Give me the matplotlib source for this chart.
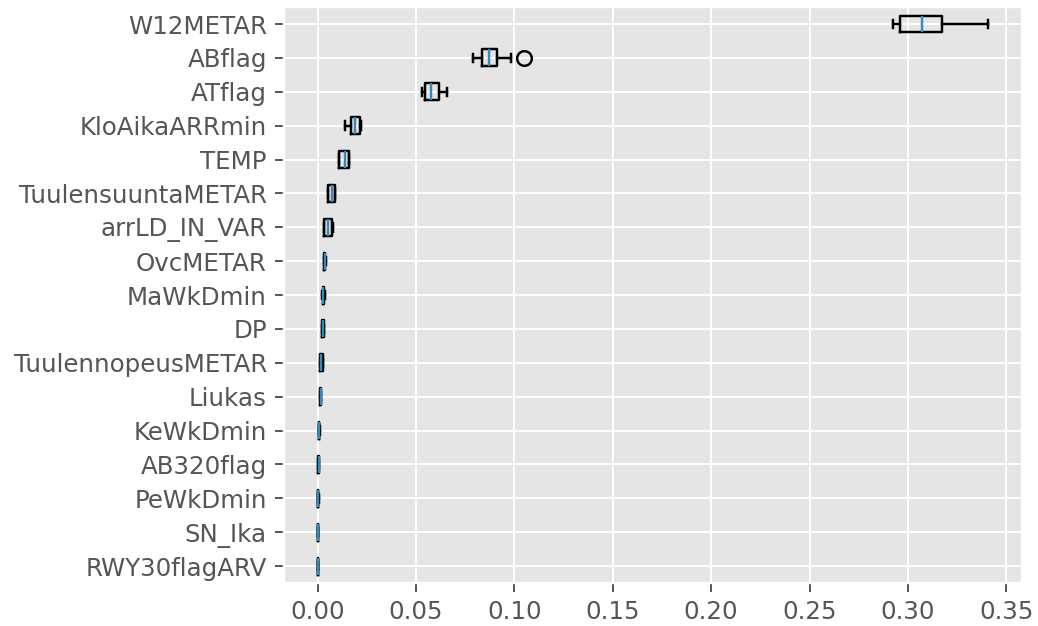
import numpy as np
import matplotlib
matplotlib.use("Agg")
import matplotlib.pyplot as plt

plt.style.use("ggplot")

# permutation importance summary per feature (bottom to top)
features = [
    "RWY30flagARV", "SN_Ika", "PeWkDmin", "AB320flag", "KeWkDmin", "Liukas",
    "TuulennopeusMETAR", "DP", "MaWkDmin", "OvcMETAR", "arrLD_IN_VAR",
    "TuulensuuntaMETAR", "TEMP", "KloAikaARRmin", "ATflag", "ABflag", "W12METAR",
]
whislo = [0.0000, 0.0001, 0.0002, 0.0003, 0.0005, 0.0013, 0.0014, 0.0022,
          0.0025, 0.0031, 0.0032, 0.0052, 0.0107, 0.0138, 0.0530, 0.0792, 0.2923]
q1 = [0.0000, 0.0001, 0.0002, 0.0003, 0.0005, 0.0014, 0.0015, 0.0024,
      0.0027, 0.0033, 0.0035, 0.0055, 0.0110, 0.0172, 0.0544, 0.0834, 0.2958]
med = [0.0001, 0.0002, 0.0003, 0.0005, 0.0007, 0.0017, 0.0020, 0.0027,
       0.0030, 0.0037, 0.0054, 0.0071, 0.0138, 0.0189, 0.0574, 0.0873, 0.3073]
q3 = [0.0002, 0.0003, 0.0004, 0.0007, 0.0009, 0.0019, 0.0026, 0.0031,
      0.0034, 0.0040, 0.0074, 0.0088, 0.0158, 0.0218, 0.0617, 0.0910, 0.3171]
whishi = [0.0002, 0.0003, 0.0005, 0.0008, 0.0010, 0.0020, 0.0027, 0.0033,
          0.0036, 0.0042, 0.0076, 0.0090, 0.0160, 0.0220, 0.0657, 0.0983, 0.3409]
fliers = [[], [], [], [], [], [], [], [], [], [], [], [], [], [], [], [0.1050], []]

stats = [
    dict(label=f, whislo=a, q1=b, med=c, q3=d, whishi=e, fliers=fl)
    for f, a, b, c, d, e, fl in zip(features, whislo, q1, med, q3, whishi, fliers)
]

dpi = 176
fig = plt.figure(figsize=(1038 / dpi, 626 / dpi), dpi=dpi)
ax = fig.add_axes([0.2736, 0.0687, 0.711, 0.920])
ax.bxp(stats, vert=False, widths=0.5)
ax.set_xticks(np.arange(0, 0.36, 0.05))

fig.savefig("out.png", dpi=dpi)
